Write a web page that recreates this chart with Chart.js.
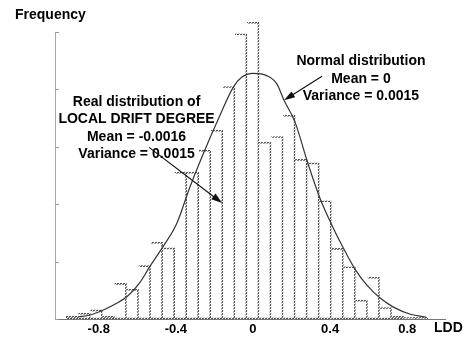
<!DOCTYPE html>
<html>
<head>
<meta charset="utf-8">
<script src="https://cdn.jsdelivr.net/npm/chart.js@4"></script>
<style>
  html, body { margin: 0; padding: 0; background: #fff; }
  #wrap { width: 468px; height: 337px; }
</style>
</head>
<body>
<div id="wrap"><canvas id="lddChart"></canvas></div>
<script>
// Histogram bins of LDD (bin width 0.0625) and measured frequency
const binCenters = [-0.9375, -0.875, -0.8125, -0.75, -0.6875, -0.625, -0.5625, -0.5, -0.4375, -0.375,
    -0.3125, -0.25, -0.1875, -0.125, -0.0625, 0, 0.0625, 0.125, 0.1875, 0.25,
    0.3125, 0.375, 0.4375, 0.5, 0.5625, 0.625, 0.6875, 0.75, 0.8125, 0.875];
const realFreq = [0.5, 1.0, 1.6, 0.5, 6.2, 5.2, 9.3, 13.4, 12.4, 25.6,
    25.6, 29.4, 32.9, 40.5, 49.7, 51.7, 30.8, 31.8, 35.5, 27.8,
    27.2, 20.6, 12.3, 9.1, 3.3, 7.3, 2.0, 0.5, 0.3, 0.3];

// Normal curve
const normalX = [-0.908, -0.845, -0.776, -0.707, -0.65, -0.59, -0.534, -0.465, -0.396, -0.327,
    -0.258, -0.171, -0.102, -0.059, 0, 0.071, 0.123, 0.161, 0.218, 0.285,
    0.348, 0.41, 0.468, 0.529, 0.591, 0.661, 0.731, 0.817, 0.9];
const normalY = [0.35, 0.7, 1.57, 2.73, 4.0, 6.2, 9.2, 12.7, 16.6, 23.0,
    28.8, 35.5, 40.4, 42.1, 42.8, 42.4, 41.0, 38.1, 34.3, 27.1,
    21.0, 16.3, 12.4, 8.7, 5.9, 3.6, 2.03, 0.83, 0.31];

const xTickValues = [-0.8, -0.4, 0, 0.4, 0.8];
const xTickLabels = ['-0.8', '-0.4', '0', '0.4', '0.8'];
const yTickValues = [0, 10, 20, 30, 40, 50];

const realNote = ['Real distribution of', 'LOCAL DRIFT DEGREE', 'Mean = -0.0016', 'Variance = 0.0015'];
const normalNote = ['Normal distribution', 'Mean = 0', 'Variance = 0.0015'];

Chart.defaults.font.family = '"Liberation Sans", Arial, sans-serif';

const canvas = document.getElementById('lddChart');

// dashed look for the bar outlines
function dashPattern(color) {
    const tile = document.createElement('canvas');
    tile.width = 3;
    tile.height = 3;
    const g = tile.getContext('2d');
    g.fillStyle = color;
    for (let i = 0; i < 3; i++) {
        for (let j = 0; j < 3; j++) {
            if ((i + j) % 3 !== 0) g.fillRect(i, j, 1, 1);
        }
    }
    return canvas.getContext('2d').createPattern(tile, 'repeat');
}

function drawArrow(ctx, x1, y1, x2, y2) {
    const a = Math.atan2(y2 - y1, x2 - x1);
    ctx.beginPath();
    ctx.moveTo(x1, y1);
    ctx.lineTo(x2 - 8 * Math.cos(a), y2 - 8 * Math.sin(a));
    ctx.stroke();
    ctx.beginPath();
    ctx.moveTo(x2, y2);
    ctx.lineTo(x2 - 11 * Math.cos(a) + 3.5 * Math.sin(a), y2 - 11 * Math.sin(a) - 3.5 * Math.cos(a));
    ctx.lineTo(x2 - 11 * Math.cos(a) - 3.5 * Math.sin(a), y2 - 11 * Math.sin(a) + 3.5 * Math.cos(a));
    ctx.closePath();
    ctx.fill();
}

// Notes, arrows, axis names and inward y ticks
const notesPlugin = {
    id: 'lddNotes',
    afterDatasetsDraw(chart) {
        const { ctx, chartArea, scales: { x, y } } = chart;
        ctx.save();

        ctx.strokeStyle = '#999';
        ctx.lineWidth = 1;
        yTickValues.forEach(v => {
            const py = Math.round(y.getPixelForValue(v)) + 0.5;
            ctx.beginPath();
            ctx.moveTo(chartArea.left, py);
            ctx.lineTo(chartArea.left + 4, py);
            ctx.stroke();
        });

        ctx.fillStyle = '#000';
        ctx.font = 'bold 14px "Liberation Sans", Arial, sans-serif';
        ctx.textBaseline = 'middle';
        ctx.textAlign = 'center';
        realNote.forEach((line, i) => {
            ctx.fillText(line, x.getPixelForValue(-0.604), y.getPixelForValue(37.8) + i * 17.5);
        });
        normalNote.forEach((line, i) => {
            ctx.fillText(line, x.getPixelForValue(0.56), y.getPixelForValue(44.9) + i * 17.5);
        });

        ctx.textAlign = 'left';
        ctx.fillText('Frequency', chartArea.left - 40, chartArea.top - 17);
        ctx.fillText('LDD', chartArea.right - 11, chartArea.bottom + 9);

        ctx.strokeStyle = '#111';
        ctx.fillStyle = '#111';
        ctx.lineWidth = 1.2;
        drawArrow(ctx, x.getPixelForValue(0.358), y.getPixelForValue(42.3),
            x.getPixelForValue(0.161), y.getPixelForValue(38.1));
        drawArrow(ctx, x.getPixelForValue(-0.539), y.getPixelForValue(29.9),
            x.getPixelForValue(-0.16), y.getPixelForValue(20.2));
        ctx.restore();
    }
};

new Chart(canvas, {
    type: 'bar',
    data: {
        datasets: [
            {
                type: 'line',
                label: 'Normal distribution',
                data: normalX.map((v, i) => ({ x: v, y: normalY[i] })),
                borderColor: '#333',
                borderWidth: 1.2,
                pointRadius: 0,
                cubicInterpolationMode: 'monotone',
                clip: false,
                order: 0,
            },
            {
                label: 'Real distribution',
                data: binCenters.map((v, i) => ({ x: v, y: realFreq[i] })),
                backgroundColor: 'rgba(0,0,0,0)',
                borderColor: dashPattern('#555'),
                borderWidth: 1,
                borderSkipped: ctx => (ctx.dataIndex === 0 ? false : 'left'),
                barPercentage: 1,
                categoryPercentage: 1,
                clip: false,
                order: 1,
            },
        ],
    },
    options: {
        responsive: true,
        maintainAspectRatio: false,
        animation: false,
        events: [],
        layout: { padding: { left: 55, right: 23, top: 32, bottom: 0 } },
        plugins: {
            legend: { display: false },
            tooltip: { enabled: false },
        },
        scales: {
            x: {
                type: 'linear',
                min: -1.027,
                max: 0.996,
                offset: false,
                grid: { display: false, drawTicks: false, offset: false },
                border: { display: true, color: '#777', dash: [3, 2], width: 1 },
                afterBuildTicks: scale => {
                    scale.ticks = xTickValues.map(v => ({ value: v }));
                },
                afterFit: scale => {
                    scale.height = 18;
                },
                ticks: {
                    padding: 3,
                    color: '#000',
                    font: { size: 13, weight: 'bold' },
                    maxRotation: 0,
                    callback: value => xTickLabels[xTickValues.indexOf(value)],
                },
            },
            y: {
                min: 0,
                max: 50,
                grid: { display: false, drawTicks: false },
                border: { display: true, color: '#aaa', dash: [2, 2], width: 1 },
                ticks: { display: false },
            },
        },
    },
    plugins: [notesPlugin],
});
</script>
</body>
</html>
